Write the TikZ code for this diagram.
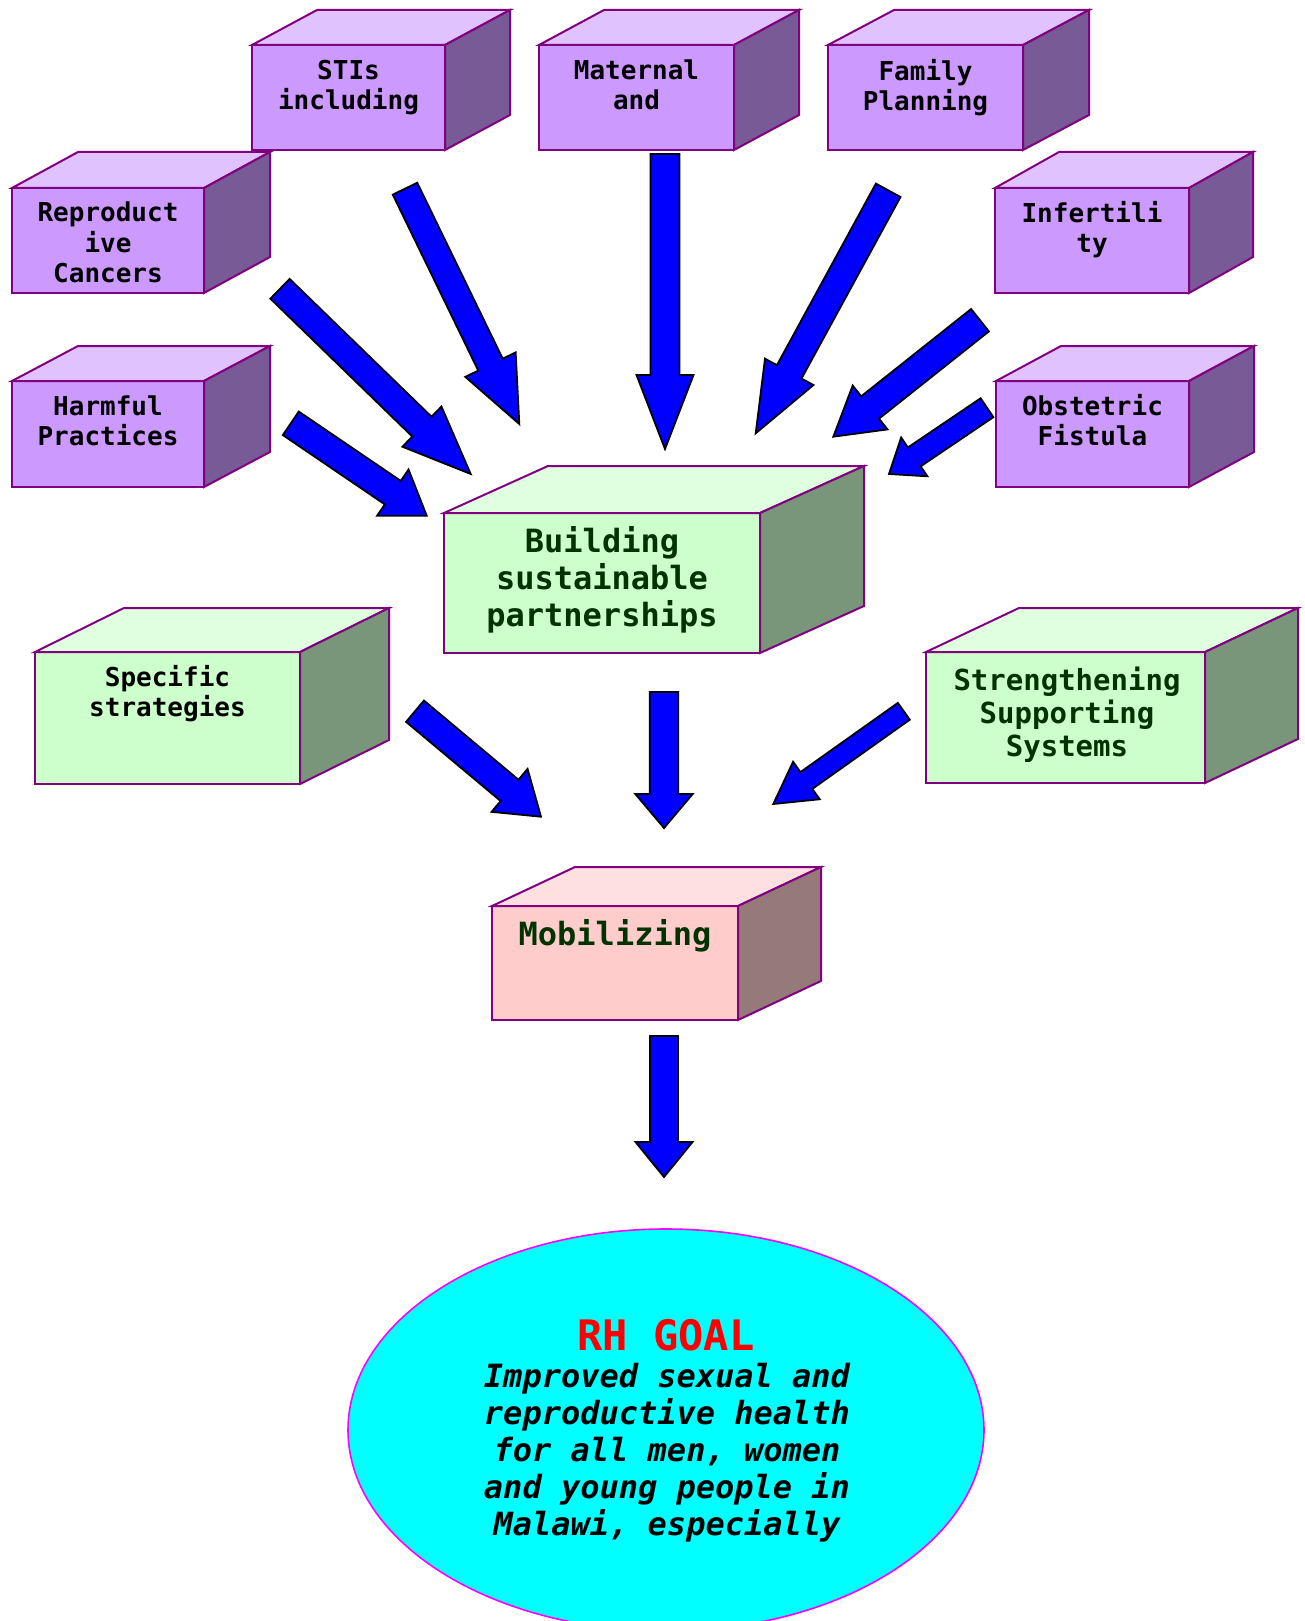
\documentclass[tikz,border=0pt]{standalone}
\usepackage{fontspec}
\newfontfamily\dvm{DejaVu Sans Mono}[BoldFont={DejaVu Sans Mono Bold},BoldItalicFont={DejaVu Sans Mono Bold Oblique}]
\usetikzlibrary{calc,shapes.geometric}
\definecolor{pfront}{HTML}{CC99FF}
\definecolor{ptop}{HTML}{E0C2FF}
\definecolor{pside}{HTML}{785A96}
\definecolor{gfront}{HTML}{CCFFCC}
\definecolor{gtop}{HTML}{E0FFE0}
\definecolor{gside}{HTML}{7A967A}
\definecolor{kfront}{HTML}{FFCCCC}
\definecolor{ktop}{HTML}{FFE0E0}
\definecolor{kside}{HTML}{967A7A}
\definecolor{edgec}{HTML}{800080}
\definecolor{dgreen}{HTML}{003300}
\definecolor{arrowblue}{HTML}{0000FF}
\definecolor{goalfill}{HTML}{00FFFF}
\definecolor{goaledge}{HTML}{FF00FF}

\tikzset{
  face/.style={rectangle, draw=edgec, line width=2pt, inner sep=0pt, outer sep=0pt},
  edge/.style={draw=edgec, line width=2pt, line join=miter},
  barrow/.style={draw=black, line width=1.8pt, fill=arrowblue, line join=miter},
  lbl/.style={anchor=north, inner sep=0pt, outer sep=0pt, align=center},
  txtS/.style={lbl, font=\dvm\bfseries\fontsize{26}{30}\selectfont},
  txtL/.style={lbl, font=\dvm\bfseries\fontsize{32}{36.7}\selectfont, text=dgreen},
  txtM/.style={lbl, font=\dvm\bfseries\fontsize{29}{33}\selectfont, text=dgreen},
  goalshape/.style={ellipse, draw=goaledge, line width=1.6pt, fill=goalfill, inner sep=0pt},
}

% cube: name, x, y (front top-left), width, height, depth dx, depth dy, colour prefix
\newcommand\cube[8]{%
  \node[face, fill=#8front, minimum width=#4pt, minimum height=#5pt, anchor=north west] (#1) at (#2,#3) {};
  \draw[edge, fill=#8top] (#1.north west) -- ++(#6,-#7) -- ++(#4,0) -- (#1.north east) -- cycle;
  \draw[edge, fill=#8side] (#1.north east) -- ++(#6,-#7) -- ++(0,#5) -- (#1.south east) -- cycle;
}
% block arrow: tail, tip, shaft half width, head half width, head length
\newcommand\blockarrow[5]{%
  \path ($(#2)!#5pt!(#1)$) coordinate (bahead);
  \draw[barrow] ($(#1)!#3pt!90:(#2)$) -- ($(bahead)!#3pt!-90:(#1)$) -- ($(bahead)!#4pt!-90:(#1)$)
    -- (#2) -- ($(bahead)!#4pt!90:(#1)$) -- ($(bahead)!#3pt!90:(#1)$) -- ($(#1)!#3pt!-90:(#2)$) -- cycle;
}
\newcommand\tstrut[1]{\rule{0pt}{#1pt}}

\begin{document}
\begin{tikzpicture}[x=1pt, y=-1pt]
\useasboundingbox (0,0) rectangle (1305,1621);

% purple boxes
\cube{sti}{252}{45}{193}{105}{65}{35}{p}
\cube{mat}{539}{45}{195}{105}{65}{35}{p}
\cube{fam}{828}{45}{195}{105}{66}{35}{p}
\cube{rep}{12}{188}{192}{105}{66}{36}{p}
\cube{inf}{995}{188}{194}{105}{64}{36}{p}
\cube{harm}{12}{381}{192}{106}{66}{35}{p}
\cube{obs}{996}{381}{193}{106}{65}{35}{p}

% green boxes
\cube{bld}{444}{513}{316}{140}{104}{47}{g}
\cube{spec}{35}{652}{265}{132}{89}{44}{g}
\cube{str}{926}{652}{279}{131}{93}{44}{g}

% pink box
\cube{mob}{492}{906}{246}{114}{83}{39}{k}

% texts
\node[txtS] (sti-t) at (348.5,59) {\tstrut{21}STIs\\including};
\node[txtS] (mat-t) at (636.5,59) {\tstrut{21}Maternal\\and};
\node[txtS] (fam-t) at (925.5,59) {\tstrut{21}Family\\Planning};
\node[txtS] (rep-t) at (108,201) {\tstrut{21}Reproduct\\ive\\Cancers};
\node[txtS] (inf-t) at (1092,201) {\tstrut{21}Infertili\\ty};
\node[txtS] (harm-t) at (108,394) {\tstrut{21}Harmful\\Practices};
\node[txtS] (obs-t) at (1092.5,394) {\tstrut{21}Obstetric\\Fistula};
\node[txtL] (bld-t) at (602,526.7) {\tstrut{26}Building\\sustainable\\partnerships};
\node[txtS] (spec-t) at (167.5,665.7) {\tstrut{21}Specific\\strategies};
\node[txtM] (str-t) at (1067,666.5) {\tstrut{23.5}Strengthening\\Supporting\\Systems};
\node[txtL] (mob-t) at (615,919) {\tstrut{26}Mobilizing};

% goal ellipse
\node[goalshape, minimum width=636pt, minimum height=402pt] (goal) at (666,1430) {};
\node[lbl, font=\dvm\bfseries\fontsize{42}{48}\selectfont, text=red] (goal-title) at (666,1316) {\tstrut{34}RH GOAL};
\node[lbl, font=\dvm\bfseries\itshape\fontsize{32}{37}\selectfont] (goal-text) at (667,1361)
  {\tstrut{26}Improved sexual and\\reproductive health\\for all men, women\\and young people in\\Malawi, especially};

% arrow end points
\coordinate (a1s) at (405,188.7);   \coordinate (a1e) at (519.3,424);
\coordinate (a2s) at (280,288.8);   \coordinate (a2e) at (470.7,474);
\coordinate (a3s) at (290.8,423.3); \coordinate (a3e) at (426.7,515.7);
\coordinate (a4s) at (665,154);     \coordinate (a4e) at (665,449);
\coordinate (a5s) at (888.2,190.3); \coordinate (a5e) at (755.7,433.3);
\coordinate (a6s) at (980,320.2);   \coordinate (a6e) at (833.3,436.7);
\coordinate (a7s) at (987,407.7);   \coordinate (a7e) at (889,474);
\coordinate (a8s) at (415,711.2);   \coordinate (a8e) at (541,816.7);
\coordinate (a9s) at (664,692);     \coordinate (a9e) at (664,828);
\coordinate (a10s) at (903.8,711.3); \coordinate (a10e) at (773.3,804);
\coordinate (a11s) at (664,1036);   \coordinate (a11e) at (664,1177);

\blockarrow{a1s}{a1e}{13.6}{28}{66}
\blockarrow{a2s}{a2e}{13.8}{28}{68}
\blockarrow{a3s}{a3e}{14.2}{28}{41}
\blockarrow{a4s}{a4e}{14.5}{28.5}{74}
\blockarrow{a5s}{a5e}{14}{27.6}{70}
\blockarrow{a6s}{a6e}{14.3}{28}{47}
\blockarrow{a7s}{a7e}{11.4}{23.4}{30.5}
\blockarrow{a8s}{a8e}{13.9}{28}{41}
\blockarrow{a9s}{a9e}{14.2}{28.7}{34}
\blockarrow{a10s}{a10e}{10.3}{23}{40.6}
\blockarrow{a11s}{a11e}{14}{28.5}{35}
\end{tikzpicture}
\end{document}
